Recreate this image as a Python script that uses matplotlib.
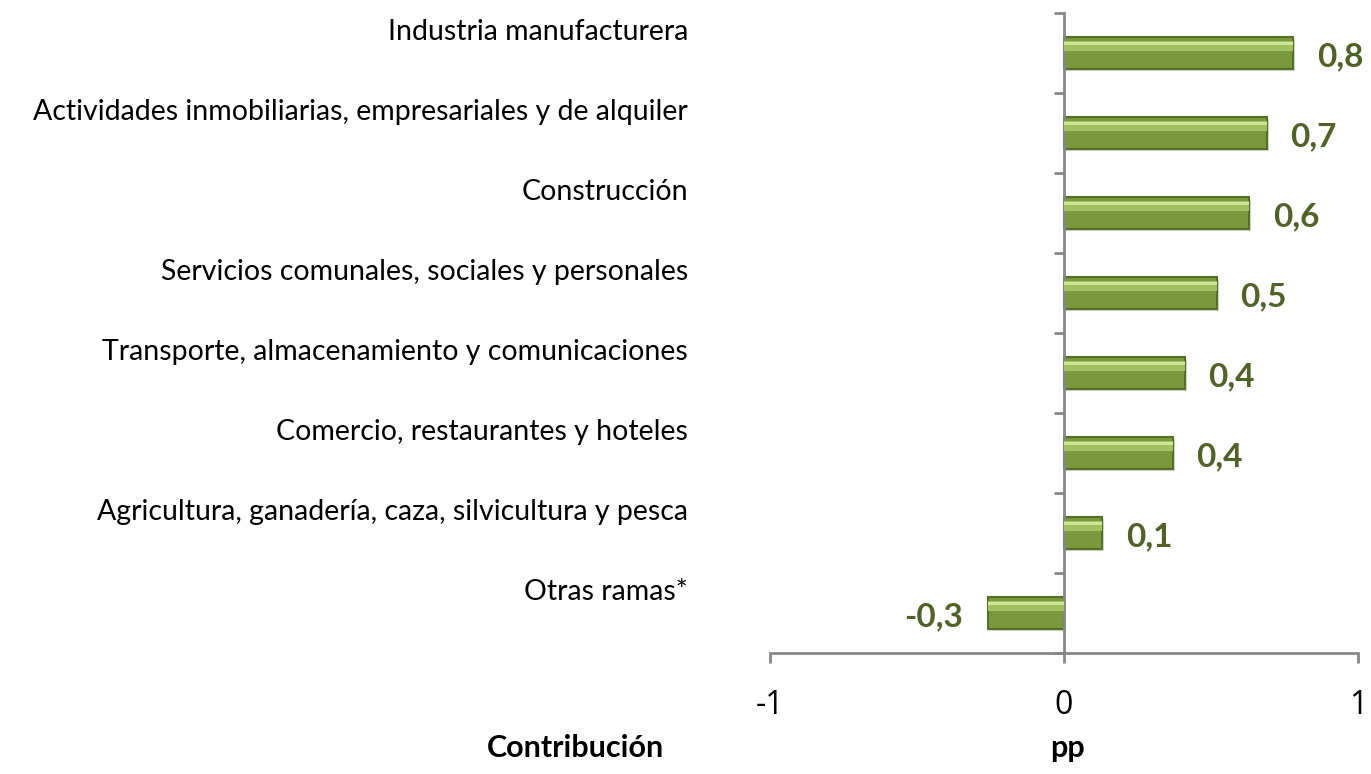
import matplotlib.pyplot as plt
import matplotlib.transforms as mtransforms

categories = [
    "Industria manufacturera",
    "Actividades inmobiliarias, empresariales y de alquiler",
    "Construcción",
    "Servicios comunales, sociales y personales",
    "Transporte, almacenamiento y comunicaciones",
    "Comercio, restaurantes y hoteles",
    "Agricultura, ganadería, caza, silvicultura y pesca",
    "Otras ramas*",
]
values = [0.78, 0.69, 0.63, 0.52, 0.41, 0.37, 0.13, -0.26]
value_labels = ["0,8", "0,7", "0,6", "0,5", "0,4", "0,4", "0,1", "-0,3"]
xticks = [-1, 0, 1]

plt.rcParams["font.family"] = ["Lato", "DejaVu Sans"]

fig = plt.figure(figsize=(13.71, 7.74), dpi=100)
ax = fig.add_axes([770 / 1371, 121 / 774, 588 / 1371, 640 / 774])

pos = list(range(len(categories)))
h = 0.39

# shadow, body, bevel highlights
shadow = mtransforms.offset_copy(ax.transData, fig=fig, x=2, y=-2, units="dots")
ax.barh(pos, values, height=h, color="#D6D9CF", transform=shadow, zorder=1)
ax.barh(pos, values, height=h, color="#7A983C", edgecolor="#566F27", linewidth=1.5, zorder=2)
ax.barh([p - h * 0.22 for p in pos], values, height=h * 0.32, color="#A2C261", linewidth=0, zorder=3)
ax.barh([p - h * 0.3 for p in pos], values, height=h * 0.1, color="#CBE696", linewidth=0, zorder=4)

ax.set_xlim(-1, 1)
ax.set_ylim(len(categories) - 0.5, -0.5)

gray = "#878787"
for s in ["top", "right"]:
    ax.spines[s].set_visible(False)
ax.spines["left"].set_position(("data", 0))
for s in ["left", "bottom"]:
    ax.spines[s].set_color(gray)
    ax.spines[s].set_linewidth(2)

ax.set_xticks(xticks)
ax.set_xticklabels([str(t) for t in xticks], fontsize=23, family=["Open Sans", "DejaVu Sans"])
ax.tick_params(axis="x", direction="out", length=7, width=2, color=gray, pad=19)
ax.set_yticks([p - 0.5 for p in pos] + [len(categories) - 0.5])
ax.set_yticklabels([])
ax.tick_params(axis="y", direction="out", length=7, width=2, color=gray)

# category labels, set a bit above each bar
lab_tr = mtransforms.blended_transform_factory(fig.transFigure, ax.transData)
for p, c in zip(pos, categories):
    ax.text(688 / 1371, p - 0.26, c, transform=lab_tr, ha="right", va="center",
            fontsize=20.5, color="#000000", clip_on=False)

for p, v, t in zip(pos, values, value_labels):
    off = 17 if v >= 0 else -18
    ax.annotate(t, xy=(v, p), xytext=(off, -3), textcoords="offset points",
                ha="left" if v >= 0 else "right", va="center",
                fontsize=24, fontweight="bold", color="#4F6228")

fig.text(575 / 1371, 1 - 748 / 774, "Contribución", ha="center", va="center",
         fontsize=22, fontweight="bold")
fig.text(1067 / 1371, 1 - 748 / 774, "pp", ha="center", va="center",
         fontsize=22, fontweight="bold")

fig.savefig("out.png", dpi=100)
